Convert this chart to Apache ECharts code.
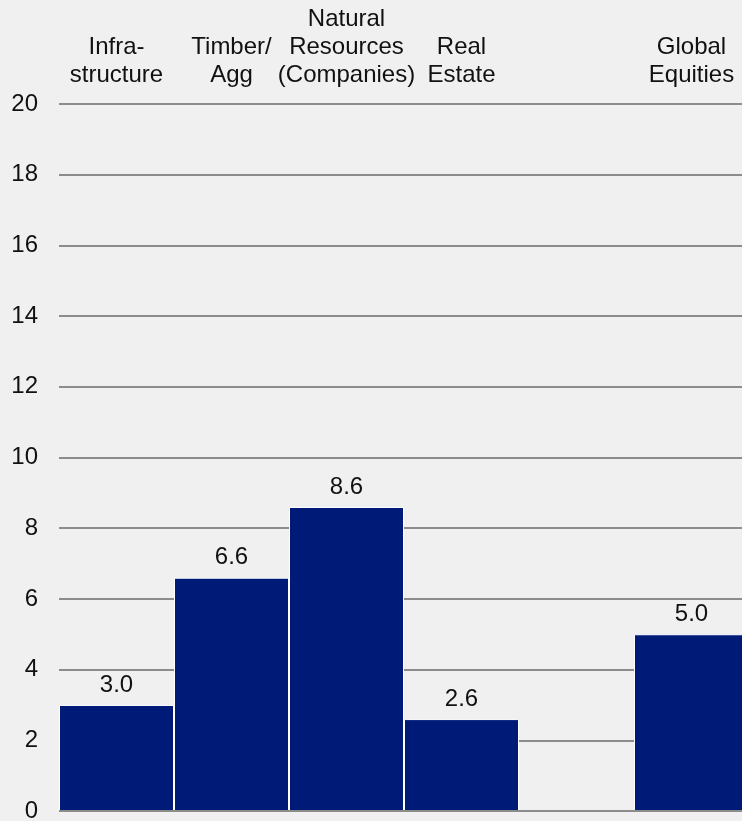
<!DOCTYPE html>
<html>
<head>
<meta charset="utf-8">
<script src="https://cdn.jsdelivr.net/npm/echarts@6/dist/echarts.min.js"></script>
<style>
    html, body { margin: 0; padding: 0; background: #f0f0f0; }
    #chart { width: 742px; height: 821px; }
</style>
</head>
<body>
<div id="chart"></div>
<script>
// categories across the top (empty slot = gap before Global Equities)
const categories = ['Infra-\nstructure', 'Timber/\nAgg', 'Natural\nResources\n(Companies)', 'Real\nEstate', '', 'Global\nEquities']
const values = [3.0, 6.6, 8.6, 2.6, null, 5.0]
const yTicks = { min: 0, max: 20, step: 2 }

const chart = echarts.init(document.getElementById('chart'))

const option = {
    backgroundColor: '#f0f0f0',
    textStyle: { fontFamily: '"Liberation Sans", Arial, sans-serif' },
    // last column runs past the right edge in the original
    grid: { left: 59, right: -7, top: 104, bottom: 10, outerBoundsMode: 'none' },
    xAxis: {
        type: 'category',
        position: 'top',
        data: categories,
        axisLine: { show: false },
        axisTick: { show: false },
        axisLabel: {
            interval: 0,
            fontSize: 24,
            lineHeight: 28,
            color: '#111',
            margin: 15
        }
    },
    yAxis: {
        type: 'value',
        min: yTicks.min,
        max: yTicks.max,
        interval: yTicks.step,
        axisLine: { show: false },
        axisTick: { show: false },
        axisLabel: { fontSize: 24, color: '#111', margin: 21 },
        splitLine: { lineStyle: { color: '#8c8c8c', width: 2 } }
    },
    series: [
        {
            type: 'bar',
            data: values,
            barCategoryGap: 0,
            itemStyle: { color: '#001a78', borderColor: '#ffffff', borderWidth: 1 },
            label: {
                show: true,
                position: 'top',
                distance: 8,
                fontSize: 24,
                color: '#111',
                formatter: p => p.value == null ? '' : p.value.toFixed(1)
            },
            markLine: {
                silent: true,
                symbol: 'none',
                label: { show: false },
                lineStyle: { color: '#8c8c8c', width: 2, type: 'solid' },
                data: [{ yAxis: 0 }]
            }
        }
    ]
}

chart.setOption(option)
</script>
</body>
</html>
